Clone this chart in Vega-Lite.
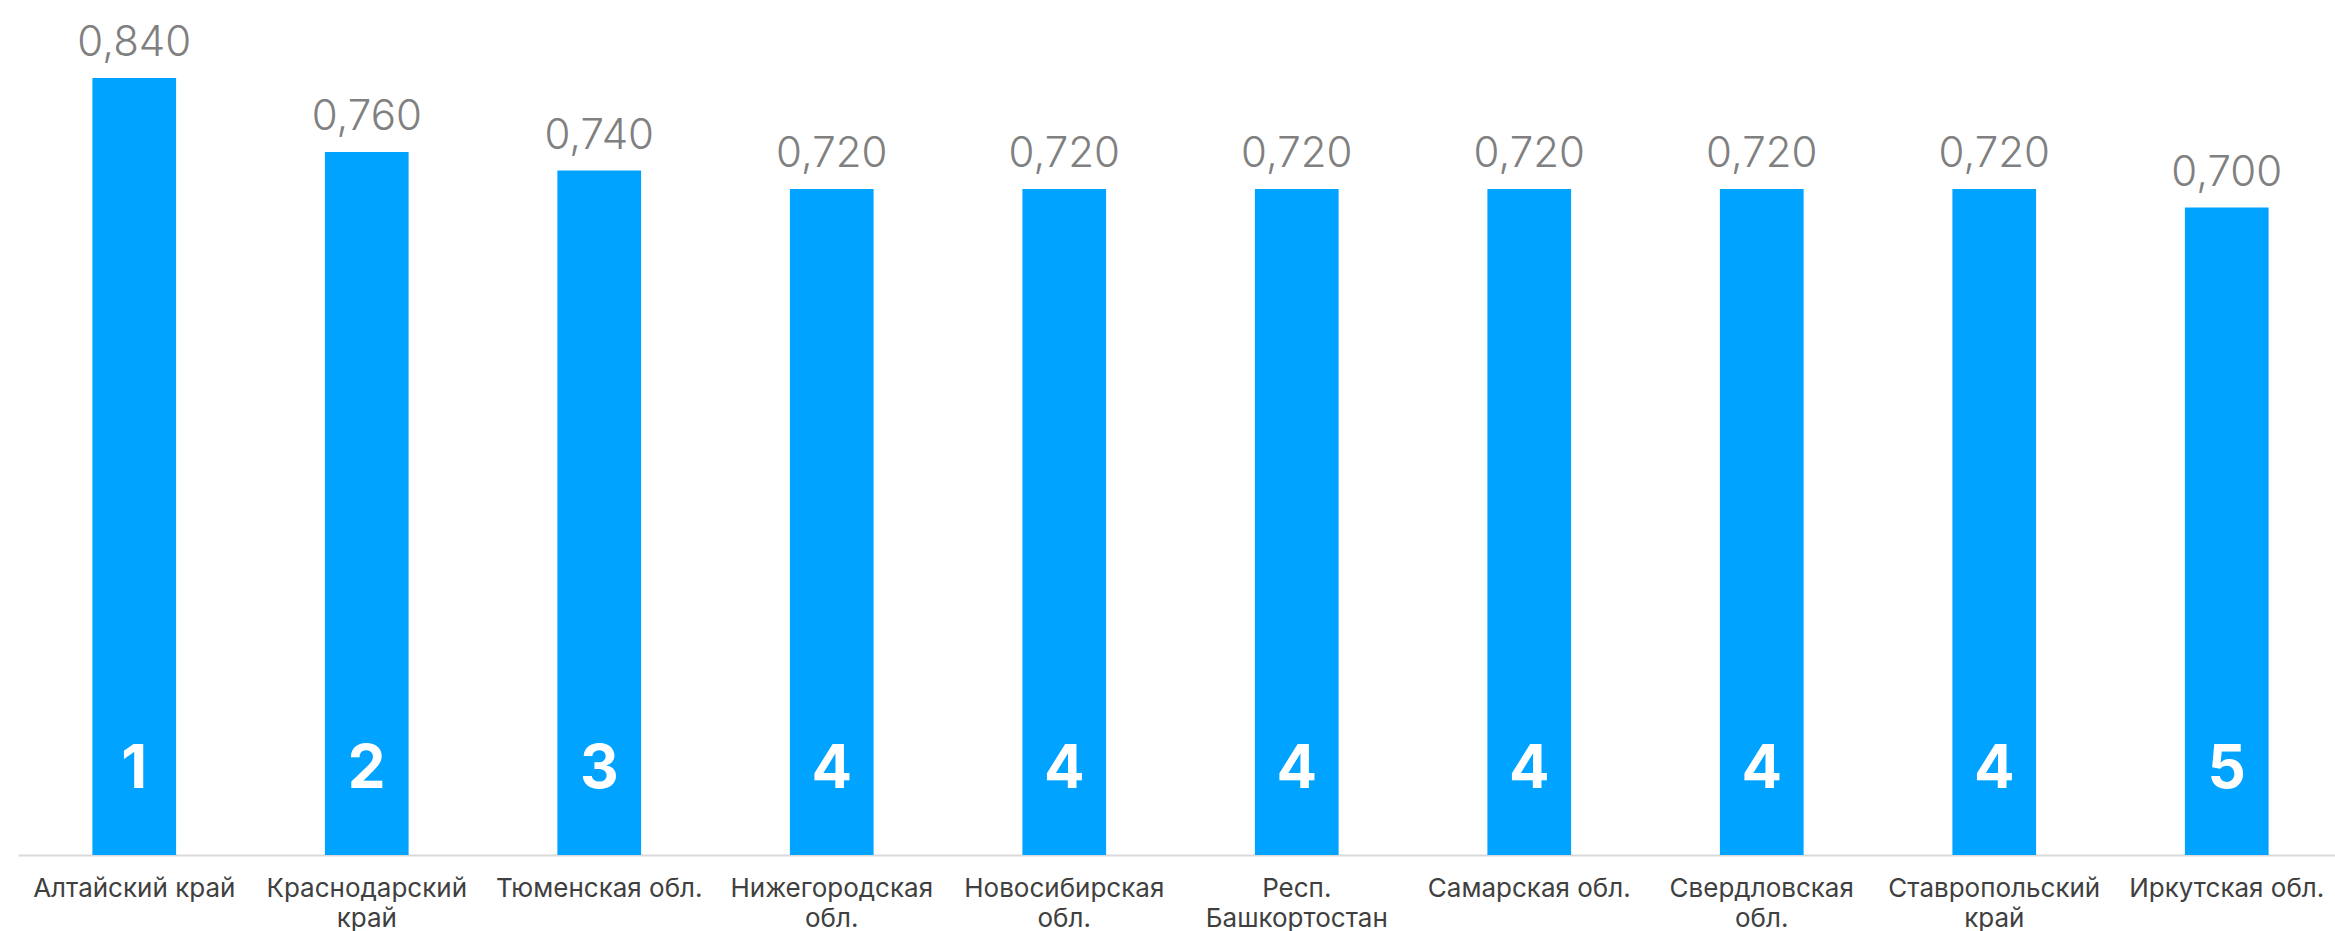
{
  "$schema": "https://vega.github.io/schema/vega-lite/v6.json",
  "width": 2325,
  "height": 832.5,
  "autosize": "none",
  "padding": {"left": 18, "top": 22.5, "right": 0, "bottom": 76},
  "background": "white",
  "config": {
    "view": {"stroke": null},
    "locale": {"number": {"decimal": ",", "thousands": " ", "grouping": [3], "currency": ["", " ₽"]}}
  },
  "data": {
    "values": [
      {"region": "Алтайский край", "value": 0.84, "rank": "1"},
      {"region": "Краснодарский|край", "value": 0.76, "rank": "2"},
      {"region": "Тюменская обл.", "value": 0.74, "rank": "3"},
      {"region": "Нижегородская|обл.", "value": 0.72, "rank": "4"},
      {"region": "Новосибирская|обл.", "value": 0.72, "rank": "4"},
      {"region": "Респ.|Башкортостан", "value": 0.72, "rank": "4"},
      {"region": "Самарская обл.", "value": 0.72, "rank": "4"},
      {"region": "Свердловская|обл.", "value": 0.72, "rank": "4"},
      {"region": "Ставропольский|край", "value": 0.72, "rank": "4"},
      {"region": "Иркутская обл.", "value": 0.70, "rank": "5"}
    ]
  },
  "encoding": {
    "x": {
      "field": "region",
      "type": "nominal",
      "sort": null,
      "scale": {"paddingInner": 0.64, "paddingOuter": 0.32},
      "axis": {
        "title": null,
        "labelAngle": 0,
        "ticks": false,
        "grid": false,
        "domainColor": "#d9d9d9",
        "domainWidth": 2,
        "labelFont": "Inter",
        "labelFontSize": 26,
        "labelColor": "#404040",
        "labelPadding": 20,
        "labelLineHeight": 30,
        "labelLimit": 0,
        "labelOverlap": false,
        "labelExpr": "split(datum.label, '|')"
      }
    }
  },
  "layer": [
    {
      "mark": {"type": "bar", "color": "#00A3FF"},
      "encoding": {
        "y": {"field": "value", "type": "quantitative", "scale": {"domain": [0, 0.9]}, "axis": null}
      }
    },
    {
      "mark": {"type": "text", "baseline": "alphabetic", "dy": -22, "font": "Inter", "fontSize": 42, "fontWeight": 300, "color": "#808080"},
      "encoding": {
        "y": {"field": "value", "type": "quantitative"},
        "text": {"field": "value", "type": "quantitative", "format": ".3f"}
      }
    },
    {
      "mark": {"type": "text", "baseline": "middle", "font": "Inter", "fontSize": 60, "fontWeight": "bold", "color": "white"},
      "encoding": {
        "y": {"datum": 0.092},
        "text": {"field": "rank"}
      }
    }
  ]
}
